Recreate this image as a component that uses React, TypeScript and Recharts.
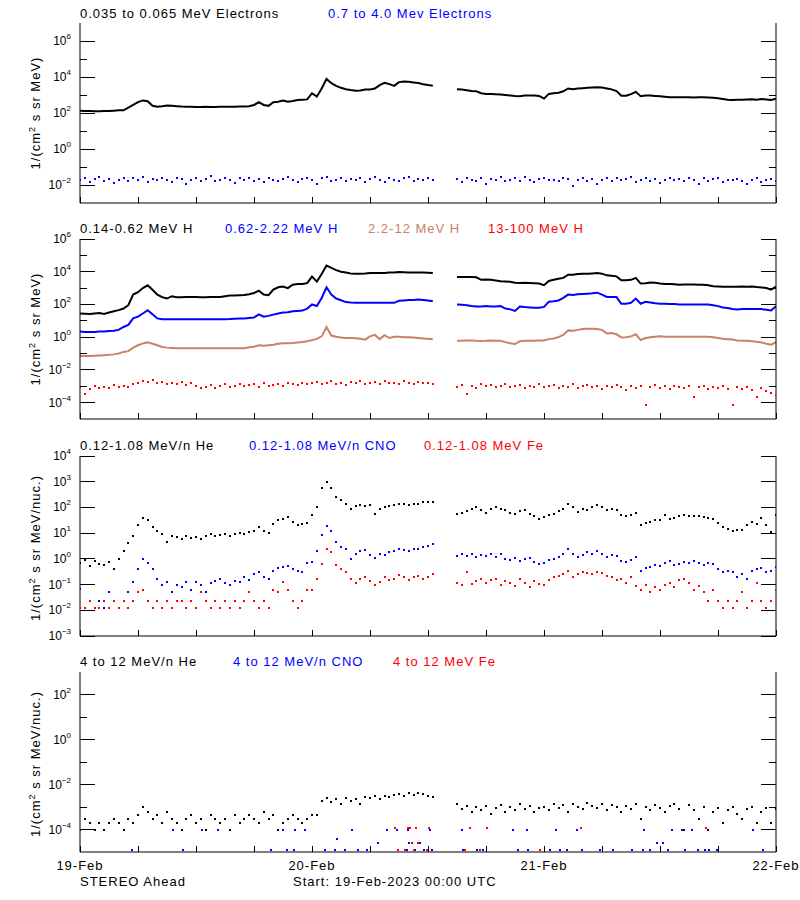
import React from 'react';
import { ComposedChart, Line, Scatter, XAxis, YAxis } from 'recharts';

// one sample every half hour, starting 19-Feb-2023 00:00 UTC; 12 values per row = 6 hours
const STEP_HOURS = 0.5;
const X_TICKS = [0, 6, 12, 18, 24, 30, 36, 42, 48, 54, 60, 66, 72];
const DAY_LABELS = ['19-Feb', '20-Feb', '21-Feb', '22-Feb'];

// panel 1: electrons
const elecLow = [
  135, 130, 130, 125, 125, 130, 130, 135, 140, 140, 200, 280,
  400, 500, 450, 250, 225, 240, 260, 250, 240, 230, 225, 220,
  215, 215, 220, 215, 215, 220, 220, 225, 225, 230, 230, 240,
  280, 400, 280, 250, 400, 420, 500, 420, 460, 520, 550, 570,
  1250, 810, 2300, 7800, 4500, 3200, 2500, 2100, 1900, 1750, 1800, 2000,
  2000, 2300, 3500, 4800, 4000, 3200, 5200, 5700, 5500, 5000, 4600, 4000,
  3600, 3300, null, null, null, null, 2100, 2000, 1850, 1650, 1600, 1250,
  1150, 1120, 1100, 1070, 1000, 930, 870, 850, 930, 950, 930, 890,
  630, 1150, 1250, 1350, 1600, 2300, 2100, 2300, 2400, 2500, 2600, 2700,
  2600, 2300, 2050, 1650, 910, 910, 1120, 1500, 850, 930, 930, 890,
  850, 800, 740, 740, 760, 760, 740, 720, 760, 740, 720, 700,
  660, 600, 550, 525, 550, 550, 560, 575, 550, 600, 560, 525,
  630,
];
const elecHigh = [
  0.018, 0.024, 0.015, 0.021, 0.027, 0.017, 0.022, 0.013, 0.02, 0.025, 0.016, 0.023,
  0.019, 0.028, 0.014, 0.022, 0.018, 0.026, 0.02, 0.015, 0.024, 0.021, 0.011, 0.019,
  0.025, 0.017, 0.022, 0.03, 0.016, 0.02, 0.024, 0.018, 0.013, 0.023, 0.019, 0.026,
  0.017, 0.021, 0.014, 0.025, 0.02, 0.016, 0.022, 0.027, 0.018, 0.015, 0.021, 0.024,
  0.019, 0.012, 0.023, 0.029, 0.017, 0.02, 0.025, 0.016, 0.022, 0.018, 0.026, 0.014,
  0.021, 0.027, 0.019, 0.015, 0.024, 0.02, 0.017, 0.023, 0.028, 0.016, 0.021, 0.019,
  0.025, 0.018, null, null, null, null, 0.022, 0.015, 0.026, 0.019, 0.017, 0.024,
  0.011, 0.021, 0.018, 0.027, 0.016, 0.02, 0.023, 0.017, 0.029, 0.019, 0.014, 0.022,
  0.025, 0.018, 0.02, 0.016, 0.024, 0.021, 0.009, 0.019, 0.026, 0.017, 0.022, 0.012,
  0.02, 0.025, 0.016, 0.023, 0.018, 0.021, 0.027, 0.015, 0.02, 0.024, 0.017, 0.022,
  0.013, 0.019, 0.026, 0.018, 0.021, 0.016, 0.023, 0.019, 0.012, 0.024, 0.017, 0.021,
  0.026, 0.015, 0.02, 0.018, 0.022, 0.016, 0.011, 0.019, 0.023, 0.015, 0.018, 0.021,
  0.017,
];

// panel 2: protons
const hLow = [
  28, 27, 26, 28, 30, 26, 32, 38, 45, 56, 90, 400,
  560, 1000, 1480, 800, 400, 280, 230, 320, 280, 280, 290, 290,
  290, 280, 280, 290, 290, 290, 320, 350, 350, 370, 380, 420,
  500, 700, 400, 370, 800, 1120, 1250, 1000, 1600, 1800, 1800, 2000,
  5000, 2500, 7200, 24000, 17000, 12600, 10000, 8900, 7900, 7400, 7600, 7900,
  8500, 8300, 8300, 8500, 8900, 9100, 9500, 9300, 9100, 8900, 9100, 8900,
  8700, 8500, null, null, null, null, 4800, 4800, 4700, 4800, 4600, 3200,
  3300, 3200, 2900, 2600, 2500, 2400, 2100, 2050, 2100, 2050, 2000, 1900,
  1500, 2750, 3200, 3700, 4200, 6600, 6600, 7200, 7400, 7600, 7900, 8300,
  7600, 6000, 5600, 5200, 3000, 3000, 3200, 4200, 1900, 2000, 2200, 2100,
  1900, 1800, 1800, 1700, 1600, 1650, 1650, 1650, 1600, 1600, 1500, 1300,
  1250, 1200, 1200, 1200, 1200, 1250, 1200, 1250, 1150, 1100, 1000, 810,
  1250,
];
const hMid = [
  2.2, 2.1, 2.1, 2.1, 2.2, 2.2, 2.4, 2.5, 2.8, 4.2, 5.6, 14,
  18, 28, 44, 25, 14, 12.6, 12.3, 12.5, 12.5, 12.3, 12.3, 12.5,
  12.3, 12.3, 12.5, 12.5, 12.5, 12.6, 12.6, 12.8, 13.5, 13.8, 14, 15,
  16, 25, 18, 20, 24, 28, 32, 33, 38, 40, 42, 56,
  100, 80, 250, 1120, 400, 230, 180, 140, 130, 126, 126, 126,
  126, 126, 126, 126, 126, 126, 166, 175, 186, 190, 200, 190,
  175, 158, null, null, null, null, 100, 95, 89, 80, 74, 76,
  80, 76, 76, 80, 56, 50, 40, 74, 69, 66, 63, 63,
  71, 145, 158, 175, 250, 400, 380, 417, 437, 457, 479, 525,
  400, 290, 290, 282, 110, 112, 126, 230, 110, 145, 132, 120,
  112, 112, 107, 105, 100, 100, 100, 100, 100, 100, 100, 89,
  79, 66, 60, 52, 50, 52, 52, 52, 52, 52, 48, 43,
  79,
];
const hHigh = [
  0.074, 0.071, 0.071, 0.074, 0.076, 0.079, 0.083, 0.089, 0.1, 0.126, 0.14, 0.23,
  0.32, 0.42, 0.48, 0.4, 0.32, 0.25, 0.23, 0.22, 0.21, 0.21, 0.21, 0.21,
  0.21, 0.21, 0.21, 0.21, 0.21, 0.21, 0.21, 0.21, 0.21, 0.21, 0.21, 0.24,
  0.26, 0.32, 0.3, 0.32, 0.35, 0.4, 0.42, 0.43, 0.44, 0.47, 0.5, 0.56,
  0.66, 0.79, 1.12, 4.2, 1.26, 1.05, 0.95, 0.89, 0.89, 0.87, 0.79, 0.71,
  1.12, 1.38, 0.76, 1.32, 0.89, 1.05, 1.05, 1.0, 1.0, 0.95, 0.89, 0.83,
  0.79, 0.76, null, null, null, null, 0.6, 0.6, 0.63, 0.63, 0.6, 0.59,
  0.6, 0.63, 0.6, 0.6, 0.5, 0.42, 0.38, 0.56, 0.6, 0.6, 0.6, 0.62,
  0.63, 0.76, 0.83, 1.0, 1.38, 2.6, 2.5, 2.8, 3.2, 3.3, 3.3, 3.2,
  2.8, 1.66, 1.78, 1.5, 0.95, 1.0, 1.12, 1.5, 0.66, 0.89, 1.0, 1.07,
  1.12, 1.07, 1.07, 1.07, 1.07, 1.07, 1.07, 1.07, 1.07, 1.07, 1.07, 1.0,
  0.89, 0.79, 0.76, 0.71, 0.63, 0.6, 0.6, 0.56, 0.52, 0.48, 0.4, 0.35,
  0.5,
];
const hTop = [
  9e-4, 3.5e-4, 7e-4, 1.1e-3, 8e-4, 9.5e-4, 7.5e-4, 1.2e-3, 8.5e-4, 1e-3, 9e-4, 1.3e-3,
  1.6e-3, 2.2e-3, 1.9e-3, 2.4e-3, 1.5e-3, 1.8e-3, 1.3e-3, 1.7e-3, 1.4e-3, 1.9e-3, 1.2e-3, 1.6e-3,
  1.1e-3, 8e-4, 9.5e-4, 1.2e-3, 7.5e-4, 1e-3, 1.3e-3, 9e-4, 1.1e-3, 1.4e-3, 1e-3, 1.2e-3,
  1.3e-3, 9.5e-4, 1.5e-3, 1.1e-3, 1.2e-3, 1.4e-3, 1e-3, 1.6e-3, 1.3e-3, 1.2e-3, 1.7e-3, 1.4e-3,
  1.5e-3, 1.9e-3, 1.3e-3, 1.6e-3, 2.1e-3, 1.4e-3, 1.7e-3, 1.2e-3, 1.8e-3, 1.5e-3, 2.2e-3, 1.4e-3,
  1.6e-3, 1.9e-3, 1.3e-3, 2e-3, 1.5e-3, 1.7e-3, 1.4e-3, 2.1e-3, 1.6e-3, 1.3e-3, 1.8e-3, 1.5e-3,
  1.7e-3, 1.4e-3, null, null, null, null, 9e-4, 1.2e-3, 3.5e-4, 1.1e-3, 8e-4, 1.3e-3,
  1e-3, 1.2e-3, 8.5e-4, 1.1e-3, 1.3e-3, 9e-4, 1e-3, 1.2e-3, 8e-4, 1.1e-3, 9.5e-4, 1.3e-3,
  8.5e-4, 1e-3, 1.2e-3, 7.5e-4, 1.1e-3, 9e-4, 1.3e-3, 8e-4, 1e-3, 1.2e-3, 9e-4, 1.1e-3,
  7e-4, 1e-3, 8.5e-4, 1.2e-3, 9e-4, 6e-4, 1.1e-3, 8e-4, 1e-3, 7.6e-5, 9e-4, 1.2e-3,
  8e-4, 1e-3, 7e-4, 1.1e-3, 9e-4, 7.5e-4, 1e-3, 2.2e-4, 8.5e-4, 1.1e-3, 7e-4, 9e-4,
  8e-4, 1e-3, 6.5e-4, 7.6e-5, 9e-4, 7e-4, 8.5e-4, 6e-4, 2.2e-4, 7.5e-4, 5.5e-4, 4e-4,
  3e-4,
];

// panel 3: 0.12-1.08 MeV/n ions
const heLow = [
  0.7, 0.9, 0.55, 0.8, 0.65, 0.6, 0.75, 0.4, 1.0, 2.0, 4.0, 8.0,
  20, 40, 32, 18, 12.6, 9, 4.5, 8, 7, 6, 7.5, 6.5,
  7, 6, 8, 9.3, 7.5, 8.5, 9, 8, 9.5, 10, 9, 11,
  12.6, 17, 12.6, 10, 23, 32, 35, 43, 28, 21, 22, 25,
  50, 105, 575, 1000, 560, 250, 200, 140, 90, 112, 120, 110,
  126, 58, 90, 100, 112, 126, 132, 140, 126, 132, 140, 158,
  158, 170, null, null, null, null, 58, 63, 71, 89, 105, 79,
  63, 89, 100, 85, 76, 63, 58, 71, 79, 56, 45, 36,
  42, 50, 56, 71, 89, 132, 100, 66, 89, 79, 100, 126,
  100, 76, 89, 79, 50, 48, 52, 63, 20, 25, 28, 32,
  32, 50, 35, 40, 45, 52, 48, 45, 45, 42, 40, 35,
  25, 17, 14, 12.6, 13, 13, 20, 28, 22, 40, 20, 11,
  50,
];
const cnoLow = [
  0.068, 0.012, 0.023, 0.012, 0.023, 0.012, 0.05, 0.023, 0.012, 0.023, 0.05, 0.126,
  0.4, 1.0, 0.7, 0.4, 0.17, 0.1, 0.126, 0.05, 0.1, 0.08, 0.126, 0.06,
  0.126, 0.1, 0.05, 0.12, 0.14, 0.17, 0.12, 0.1, 0.14, 0.126, 0.2, 0.15,
  0.25, 0.3, 0.2, 0.16, 0.35, 0.45, 0.5, 0.55, 0.4, 0.35, 0.3, 0.7,
  0.74, 2.0, 8.1, 19, 12, 4.5, 3.0, 2.45, 1.0, 1.6, 2.0, 2.2,
  1.4, 1.1, 1.6, 1.4, 1.8, 2.0, 2.5, 2.2, 2.0, 2.5, 2.4, 2.8,
  3.2, 3.9, null, null, null, null, 1.35, 1.6, 1.3, 1.5, 1.2, 1.4,
  1.3, 1.5, 1.2, 1.6, 1.0, 0.9, 1.1, 0.85, 1.0, 1.1, 0.75, 0.65,
  0.7, 0.9, 1.0, 1.2, 1.5, 2.45, 1.6, 1.2, 1.4, 1.8, 1.6, 2.1,
  1.5, 1.2, 1.4, 1.3, 0.8, 0.74, 0.9, 1.2, 0.35, 0.45, 0.5, 0.6,
  0.55, 0.7, 0.85, 0.6, 0.65, 0.75, 0.7, 0.8, 0.72, 0.6, 0.7, 0.65,
  0.4, 0.3, 0.35, 0.3, 0.2, 0.25, 0.16, 0.35, 0.4, 0.45, 0.3, 0.35,
  0.5,
];
const feLow = [
  0.012, 0.012, 0.023, 0.012, 0.012, 0.023, 0.012, 0.023, 0.012, 0.023, 0.012, 0.023,
  0.05, 0.06, 0.023, 0.012, 0.023, 0.012, 0.023, 0.012, 0.023, 0.023, 0.012, 0.023,
  0.012, 0.05, 0.023, 0.012, 0.023, 0.012, 0.023, 0.012, 0.023, 0.012, 0.023, 0.05,
  0.023, 0.012, 0.023, 0.012, 0.06, 0.05, 0.126, 0.06, 0.023, 0.012, 0.023, 0.06,
  0.06, 0.17, 0.65, 2.45, 1.8, 0.6, 0.4, 0.3, 0.17, 0.12, 0.17, 0.2,
  0.14, 0.1, 0.126, 0.2, 0.15, 0.17, 0.24, 0.2, 0.15, 0.2, 0.22, 0.17,
  0.2, 0.26, null, null, null, null, 0.12, 0.1, 0.3, 0.11, 0.14, 0.17,
  0.12, 0.15, 0.17, 0.1, 0.14, 0.12, 0.09, 0.17, 0.12, 0.08, 0.14, 0.11,
  0.1, 0.15, 0.2, 0.22, 0.26, 0.35, 0.2, 0.25, 0.3, 0.28, 0.26, 0.3,
  0.28, 0.22, 0.2, 0.15, 0.17, 0.12, 0.2, 0.09, 0.06, 0.1, 0.05, 0.08,
  0.06, 0.1, 0.12, 0.08, 0.15, 0.17, 0.12, 0.06, 0.09, 0.05, 0.023, 0.06,
  0.023, 0.012, 0.023, 0.012, 0.023, 0.05, 0.012, 0.023, 0.12, 0.023, 0.012, 0.023,
  0.06,
];

// panel 4: 4-12 MeV/n ions
const heHigh = [
  1e-4, 2.9e-4, 1.9e-4, 1e-4, 1.9e-4, 1e-4, 1.9e-4, 2.9e-4, 1.9e-4, 1e-4, 2.9e-4, 1.9e-4,
  4.5e-4, 9.6e-4, 6.3e-4, 2.9e-4, 4.5e-4, 1.9e-4, 6.3e-4, 2.9e-4, 1.9e-4, 1e-4, 2.9e-4, 4.5e-4,
  1.9e-4, 2.9e-4, 1e-4, 4.5e-4, 2.9e-4, 1.9e-4, 2.9e-4, 1e-4, 4.5e-4, 1.9e-4, 2.9e-4, 4.5e-4,
  2.9e-4, 1.9e-4, 6.3e-4, 2.9e-4, 4.5e-4, 1e-4, 1.9e-4, 2.9e-4, 4.5e-4, 2.9e-4, 1.9e-4, 2.9e-4,
  4.5e-4, 4.5e-4, 1.9e-3, 2.5e-3, 1.6e-3, 2.2e-3, 1.4e-3, 2.5e-3, 1.8e-3, 2.2e-3, 1.3e-3, 2.8e-3,
  2.5e-3, 3e-3, 2.2e-3, 3.2e-3, 2.8e-3, 3.5e-3, 3.8e-3, 3.2e-3, 4e-3, 3.5e-3, 4.2e-3, 3.6e-3,
  3.2e-3, 2.8e-3, null, null, null, null, 1.3e-3, 8e-4, 1.1e-3, 6e-4, 1e-3, 7e-4,
  1.1e-3, 5e-4, 9e-4, 1.2e-3, 6e-4, 1e-3, 7e-4, 1.3e-3, 8e-4, 1.1e-3, 6e-4, 9e-4,
  1e-3, 7e-4, 1.3e-3, 9e-4, 1.2e-3, 6e-4, 1.4e-3, 1e-3, 8e-4, 1.5e-3, 1.1e-3, 9e-4,
  1.3e-3, 7e-4, 1.2e-3, 1e-3, 6e-4, 1.1e-3, 8e-4, 1.3e-3, 2.9e-4, 1e-3, 7e-4, 1.2e-3,
  9e-4, 6e-4, 1.1e-3, 1.3e-3, 8e-4, 1e-4, 1.2e-3, 7e-4, 2.9e-4, 1e-3, 1e-4, 6e-4,
  9e-4, 1.9e-4, 7e-4, 1e-3, 5e-4, 2.9e-4, 8e-4, 1e-3, 1.9e-4, 6e-4, 9e-4, 1.9e-4,
  8e-4,
];
// sparse counts: hours after start, values
const cnoHighHours = [
  5.4, 9.6, 10.7, 12.6, 14.3, 19.8, 21.0, 21.4, 22.1, 22.2, 23.3, 25.3, 26.4, 26.6, 27.4, 28.1,
  28.8, 29.7, 30.8, 31.8, 32.8, 32.9, 33.8, 33.9, 34.0, 34.7, 35.2, 35.6, 36.2, 36.4, 39.5, 39.6,
  41.1, 41.7, 44.8, 45.3, 46.2, 46.3, 47.6, 48.6, 49.2, 49.7, 50.4, 51.4, 51.9, 53.8, 55.1, 57.1,
  58.2, 58.3, 59.0, 59.7, 60.3, 60.8, 61.2, 62.3, 62.6, 63.3, 63.9, 64.7, 65.1, 65.9, 69.6, 70.7,
];
const cnoHighVals = [
  1.2e-5, 1e-4, 1.2e-5, 1e-4, 1e-4, 1.2e-5, 1e-4, 1.2e-5, 1.2e-5, 1e-4, 1e-4, 1.2e-5, 1.2e-5, 3.7e-5, 1.2e-5, 1e-4,
  1.2e-5, 1.2e-5, 2.5e-5, 1e-4, 1e-4, 1.2e-5, 1.2e-5, 1e-4, 2.5e-5, 1.2e-5, 2.5e-5, 1.2e-5, 1e-4, 1.2e-5, 1e-4, 1.2e-5,
  1.2e-5, 1.2e-5, 1e-4, 1.2e-5, 1e-4, 1.2e-5, 1.2e-5, 1.2e-5, 1e-4, 1.2e-5, 1.2e-5, 1e-4, 1.2e-5, 1.2e-5, 1.2e-5, 1.2e-5,
  1.2e-5, 1e-4, 1.2e-5, 2.5e-5, 2.5e-5, 1.2e-5, 1e-4, 1e-4, 1.2e-5, 1e-4, 1.2e-5, 1.2e-5, 1.2e-5, 1.2e-5, 1e-4, 1.2e-5,
];
const feHighHours = [32.6, 32.9, 33.6, 33.9, 34.1, 34.3, 34.6, 34.8, 35.0, 35.9, 36.1, 39.8, 40.3, 41.4, 42.1, 47.6, 51.8, 64.8];
const feHighVals = [
  1.2e-4, 1.2e-5, 1.2e-5, 1.2e-4, 1.2e-4, 2.5e-5, 1.2e-5, 1.2e-4, 2.5e-5, 1.2e-5, 1.2e-4, 1.2e-5, 1.2e-4, 1.2e-5, 1.2e-4,
  1.2e-5, 1.2e-4, 1.2e-4,
];

const BLACK = '#000000';
const BLUE = '#0000ff';
const RED = '#ff0000';
const BROWN = '#c88264';
const FONT = '"Liberation Sans", Helvetica, Arial, sans-serif';

// room above each plot box so the top tick label is not clipped
const PAD_TOP = 12;

type Pt = { t: number; v: number | null };

function series(values: (number | null)[]): Pt[] {
  return values.map((v, i) => ({ t: i * STEP_HOURS, v }));
}
function points(values: (number | null)[]): Pt[] {
  return series(values).filter((d) => d.v != null);
}
function sparse(hours: number[], values: number[]): Pt[] {
  return hours.map((t, i) => ({ t, v: values[i] }));
}

const square = (color: string) => (p: any) => (
  <rect x={Math.round(p.cx) - 1} y={Math.round(p.cy) - 1} width={2} height={2} fill={color} />
);

const expLabel = (e: number) => (e < 0 ? '\u2212' + -e : String(e));

function leftTick(allMajor: boolean) {
  return (p: any) => {
    const e = Math.round(Math.log10(p.payload.value));
    const major = allMajor || e % 2 === 0;
    return (
      <g>
        <line x1={p.x} x2={p.x + (major ? 15 : 7)} y1={p.y} y2={p.y} stroke={BLACK} shapeRendering="crispEdges" />
        {major && (
          <text x={p.x - 9} y={p.y + 4} textAnchor="end" fontSize={12} fontFamily={FONT} fill={BLACK}>
            10
            <tspan dy={-6} fontSize={8}>
              {expLabel(e)}
            </tspan>
          </text>
        )}
      </g>
    );
  };
}

function rightTick(allMajor: boolean) {
  return (p: any) => {
    const e = Math.round(Math.log10(p.payload.value));
    const major = allMajor || e % 2 === 0;
    return (
      <line x1={p.x} x2={p.x - (major ? 15 : 7)} y1={p.y} y2={p.y} stroke={BLACK} shapeRendering="crispEdges" />
    );
  };
}

function bottomTick(showDates: boolean) {
  return (p: any) => {
    const v = p.payload.value;
    return (
      <g>
        <line x1={p.x} x2={p.x} y1={p.y} y2={p.y - 6} stroke={BLACK} shapeRendering="crispEdges" />
        {showDates && v % 24 === 0 && (
          <text x={p.x} y={p.y + 18} textAnchor="middle" fontSize={13} letterSpacing={1} fontFamily={FONT} fill={BLACK}>
            {DAY_LABELS[v / 24]}
          </text>
        )}
      </g>
    );
  };
}

const topTick = (p: any) => (
  <line x1={p.x} x2={p.x} y1={p.y} y2={p.y + 6} stroke={BLACK} shapeRendering="crispEdges" />
);

interface PanelProps {
  top: number;
  domain: [number, number];
  yTicks: number[];
  allMajor?: boolean;
  showDates?: boolean;
  children: React.ReactNode;
}

function Panel({ top, domain, yTicks, allMajor = false, showDates = false, children }: PanelProps) {
  const axisLine = { stroke: BLACK, strokeWidth: 1 };
  return (
    <div style={{ position: 'absolute', left: 0, top: top - PAD_TOP }}>
      <ComposedChart width={800} height={180 + PAD_TOP + 22} margin={{ top: PAD_TOP, right: 0, bottom: 2, left: 0 }}>
        <XAxis
          xAxisId="b"
          dataKey="t"
          type="number"
          orientation="bottom"
          domain={[0, 72]}
          ticks={X_TICKS}
          interval={0}
          height={20}
          axisLine={axisLine}
          tickLine={false}
          tickSize={0}
          tickMargin={0}
          tick={bottomTick(showDates)}
          allowDataOverflow
        />
        <XAxis
          xAxisId="t"
          dataKey="t"
          type="number"
          orientation="top"
          domain={[0, 72]}
          ticks={X_TICKS}
          interval={0}
          height={0}
          axisLine={axisLine}
          tickLine={false}
          tickSize={0}
          tickMargin={0}
          tick={topTick}
          allowDataOverflow
        />
        <YAxis
          yAxisId="l"
          dataKey="v"
          type="number"
          scale="log"
          orientation="left"
          domain={domain}
          ticks={yTicks}
          interval={0}
          width={80}
          axisLine={axisLine}
          tickLine={false}
          tickSize={0}
          tickMargin={0}
          tick={leftTick(allMajor)}
          allowDataOverflow
        />
        <YAxis
          yAxisId="r"
          dataKey="v"
          type="number"
          scale="log"
          orientation="right"
          domain={domain}
          ticks={yTicks}
          interval={0}
          width={24}
          axisLine={axisLine}
          tickLine={false}
          tickSize={0}
          tickMargin={0}
          tick={rightTick(allMajor)}
          allowDataOverflow
        />
        {children}
      </ComposedChart>
    </div>
  );
}

const lineSeries = (key: string, values: (number | null)[], color: string) => (
  <Line
    key={key}
    xAxisId="b"
    yAxisId="l"
    data={series(values)}
    dataKey="v"
    type="linear"
    stroke={color}
    strokeWidth={2}
    dot={false}
    connectNulls={false}
    isAnimationActive={false}
  />
);

const dotSeries = (key: string, data: Pt[], color: string) => (
  <Scatter
    key={key}
    xAxisId="b"
    yAxisId="l"
    data={data}
    dataKey="v"
    fill={color}
    shape={square(color)}
    isAnimationActive={false}
  />
);

function Superscript({ children }: { children: React.ReactNode }) {
  return (
    <>
      <tspan dy={-5} fontSize={9}>
        {children}
      </tspan>
      <tspan dy={5}> </tspan>
    </>
  );
}

function YLabel({ cy, text }: { cy: number; text: string }) {
  return (
    <text
      transform={`translate(40, ${cy}) rotate(-90)`}
      textAnchor="middle"
      fontSize={13}
      letterSpacing={1}
      fill={BLACK}
    >
      1/(cm
      <Superscript>2</Superscript>
      {text}
    </text>
  );
}

export default function App() {
  return (
    <div style={{ position: 'absolute', left: 0, top: 0, width: 800, height: 900, background: '#fff' }}>
      <Panel top={23} domain={[1e-3, 1e7]} yTicks={[1e-2, 1e-1, 1, 10, 100, 1e3, 1e4, 1e5, 1e6]}>
        {lineSeries('elecLow', elecLow, BLACK)}
        {dotSeries('elecHigh', points(elecHigh), BLUE)}
      </Panel>
      <Panel top={239} domain={[1e-5, 1e6]} yTicks={[1e-4, 1e-3, 1e-2, 1e-1, 1, 10, 100, 1e3, 1e4, 1e5, 1e6]}>
        {lineSeries('hLow', hLow, BLACK)}
        {lineSeries('hMid', hMid, BLUE)}
        {lineSeries('hHigh', hHigh, BROWN)}
        {dotSeries('hTop', points(hTop), RED)}
      </Panel>
      <Panel top={456} domain={[1e-3, 1e4]} yTicks={[1e-3, 1e-2, 1e-1, 1, 10, 100, 1e3, 1e4]} allMajor>
        {dotSeries('heLow', points(heLow), BLACK)}
        {dotSeries('cnoLow', points(cnoLow), BLUE)}
        {dotSeries('feLow', points(feLow), RED)}
      </Panel>
      <Panel top={672} domain={[1e-5, 1e3]} yTicks={[1e-4, 1e-3, 1e-2, 1e-1, 1, 10, 100]} showDates>
        {dotSeries('heHigh', points(heHigh), BLACK)}
        {dotSeries('cnoHigh', sparse(cnoHighHours, cnoHighVals), BLUE)}
        {dotSeries('feHigh', sparse(feHighHours, feHighVals), RED)}
      </Panel>

      <svg
        width={800}
        height={900}
        style={{ position: 'absolute', left: 0, top: 0, pointerEvents: 'none' }}
        fontFamily={FONT}
        fontSize={13}
        letterSpacing={1}
      >
        <text x={80} y={18} fill={BLACK}>0.035 to 0.065 MeV Electrons</text>
        <text x={328} y={18} fill={BLUE}>0.7 to 4.0 Mev Electrons</text>

        <text x={80} y={233} fill={BLACK}>0.14-0.62 MeV H</text>
        <text x={225} y={233} fill={BLUE}>0.62-2.22 MeV H</text>
        <text x={368} y={233} fill={BROWN}>2.2-12 MeV H</text>
        <text x={488} y={233} fill={RED}>13-100 MeV H</text>

        <text x={80} y={450} fill={BLACK}>0.12-1.08 MeV/n He</text>
        <text x={249} y={450} fill={BLUE}>0.12-1.08 MeV/n CNO</text>
        <text x={424} y={450} fill={RED}>0.12-1.08 MeV Fe</text>

        <text x={80} y={666} fill={BLACK}>4 to 12 MeV/n He</text>
        <text x={233} y={666} fill={BLUE}>4 to 12 MeV/n CNO</text>
        <text x={393} y={666} fill={RED}>4 to 12 MeV Fe</text>

        <YLabel cy={113} text="s sr MeV)" />
        <YLabel cy={329} text="s sr MeV)" />
        <YLabel cy={548} text="s sr MeV/nuc.)" />
        <YLabel cy={764} text="s sr MeV/nuc.)" />

        <text x={80} y={886} fill={BLACK}>STEREO Ahead</text>
        <text x={293} y={886} fill={BLACK}>Start: 19-Feb-2023 00:00 UTC</text>
      </svg>
    </div>
  );
}
